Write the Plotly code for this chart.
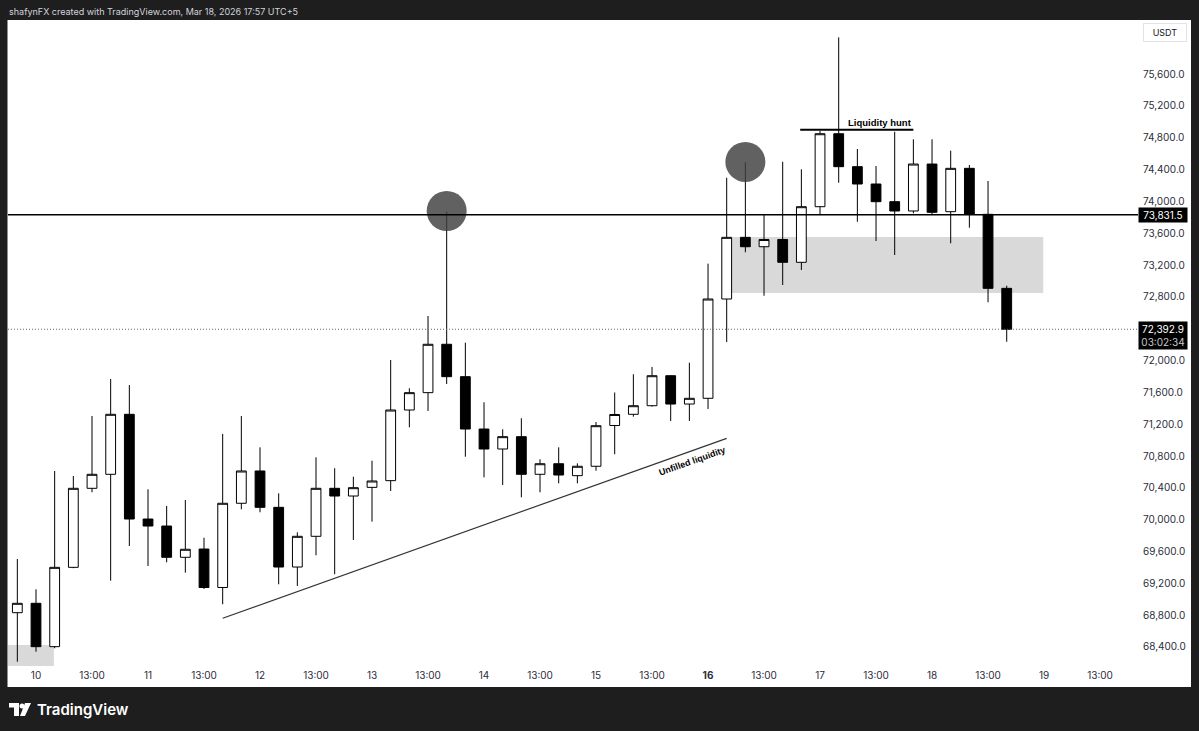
import plotly.graph_objects as go
import pandas as pd

# BTC/USDT 4H candles, local time UTC+5
times = pd.date_range("2026-03-09 21:00", periods=54, freq="4h")

opens = [68831, 68949, 68404, 69401, 70394, 70570, 71324, 70008, 69920, 69527,
         69631, 69148, 70206, 70612, 70155, 69405, 69791, 70394, 70297, 70406,
         70490, 71378, 71596, 72204, 71797, 71139, 70888, 71043, 70570, 70703,
         70553, 70671, 71183, 71324, 71432, 71809, 71453, 71525, 72773, 73548,
         73430, 73521, 73234, 73933, 74850, 74436, 74218, 73996, 73879, 74469,
         73870, 74415, 73837, 72907]
highs = [69506, 69125, 70612, 70549, 71303, 71768, 71692, 70382, 70172, 70247,
         69773, 71077, 71303, 70909, 70331, 69841, 70784, 70646, 70540, 70741,
         72006, 71651, 72559, 73870, 72224, 71475, 71136, 71274, 70759, 70909,
         70708, 71227, 71598, 71827, 71919, 71815, 71973, 73217, 74297, 74491,
         73835, 74498, 74403, 74884, 76061, 74658, 74444, 74875, 74780, 74780,
         74637, 74457, 74256, 72940]
lows = [68215, 68341, 68384, 69390, 70344, 69233, 69669, 69418, 69464, 69334,
        69129, 68937, 70130, 70093, 69188, 69167, 69552, 69314, 69745, 69975,
        70360, 71161, 71366, 71705, 70791, 70532, 70436, 70281, 70344, 70457,
        70457, 70615, 70822, 71294, 71420, 71240, 71240, 71391, 72233, 73360,
        72814, 72949, 73137, 73837, 74234, 73744, 73502, 73326, 73850, 73841,
        73473, 73669, 72732, 72236]
closes = [68949, 68404, 69401, 70394, 70570, 71324, 70008, 69920, 69527, 69628,
          69148, 70206, 70612, 70155, 69405, 69791, 70394, 70297, 70402, 70486,
          71378, 71596, 72204, 71797, 71139, 70888, 71043, 70570, 70703, 70561,
          70671, 71181, 71322, 71432, 71809, 71453, 71525, 72773, 73548, 73430,
          73521, 73234, 73933, 74850, 74436, 74218, 73996, 73879, 74469, 73862,
          74415, 73837, 72907, 72392.9]

tick_times = ["2026-03-10 01:00", "2026-03-10 13:00", "2026-03-11 01:00", "2026-03-11 13:00",
              "2026-03-12 01:00", "2026-03-12 13:00", "2026-03-13 01:00", "2026-03-13 13:00",
              "2026-03-14 01:00", "2026-03-14 13:00", "2026-03-15 01:00", "2026-03-15 13:00",
              "2026-03-16 01:00", "2026-03-16 13:00", "2026-03-17 01:00", "2026-03-17 13:00",
              "2026-03-18 01:00", "2026-03-18 13:00", "2026-03-19 01:00", "2026-03-19 13:00"]
tick_text = ["10", "13:00", "11", "13:00", "12", "13:00", "13", "13:00", "14", "13:00",
             "15", "13:00", "<b>16</b>", "13:00", "17", "13:00", "18", "13:00", "19", "13:00"]
price_ticks = list(range(68400, 75601, 400))

level_price = 73831.5
last_price = 72392.9
countdown = "03:02:34"

# annotation drawing points
circle_times = ["2026-03-13 17:00", "2026-03-16 09:00"]
circle_prices = [73879, 74495]

# plot area in pixels
L, R, T, B = 8, 1138, 20, 668
W_PX, H_PX = R - L, B - T


def px(x):
    return (x - L) / W_PX


def py(y):
    return (B - y) / H_PX


fig = go.Figure()

fig.add_trace(go.Candlestick(
    x=times, open=opens, high=highs, low=lows, close=closes,
    increasing=dict(fillcolor="white", line=dict(color="#000000", width=1)),
    decreasing=dict(fillcolor="#000000", line=dict(color="#000000", width=1)),
    whiskerwidth=0, showlegend=False, hoverinfo="skip",
))

fig.add_trace(go.Scatter(
    x=circle_times, y=circle_prices, mode="markers",
    marker=dict(size=40, color="rgba(62,62,62,0.82)", line=dict(width=0)),
    showlegend=False, hoverinfo="skip",
))

shapes = [
    # white chart panel
    dict(type="rect", xref="paper", yref="paper", x0=px(7.5), x1=px(1191), y0=py(687), y1=py(20),
         fillcolor="white", line=dict(width=0), layer="below"),
    # supply zone
    dict(type="rect", xref="x", yref="y", x0="2026-03-16 05:00", x1="2026-03-19 00:50",
         y0=72848, y1=73552, fillcolor="#d9d9d9", line=dict(width=0), layer="below"),
    # small zone lower left
    dict(type="rect", xref="x", yref="y", x0="2026-03-09 18:00", x1="2026-03-10 04:50",
         y0=68160, y1=68425, fillcolor="#d9d9d9", line=dict(width=0), layer="below"),
    # key level
    dict(type="line", xref="paper", yref="y", x0=0, x1=1, y0=level_price, y1=level_price,
         line=dict(color="#000000", width=1.5)),
    # last price
    dict(type="line", xref="paper", yref="y", x0=0, x1=1, y0=last_price, y1=last_price,
         line=dict(color="#666666", width=1, dash="1px,2px")),
    # trendline
    dict(type="line", xref="x", yref="y", x0="2026-03-11 17:00", y0=68761,
         x1="2026-03-16 05:00", y1=71022, line=dict(color="#333333", width=1.2)),
    # liquidity hunt line
    dict(type="line", xref="x", yref="y", x0="2026-03-16 20:45", y0=74900,
         x1="2026-03-17 21:00", y1=74900, line=dict(color="#000000", width=2)),
]

# TradingView logo (rough)
logo = [
    "M {} {} L {} {} L {} {} L {} {} L {} {} L {} {} Z".format(
        px(9), py(703), px(19), py(703), px(19), py(716), px(14), py(716), px(14), py(707.5), px(9), py(707.5)),
    "M {} {} L {} {} L {} {} L {} {} Z".format(
        px(25), py(703), px(31), py(703), px(25), py(716), px(20), py(716)),
]
for p in logo:
    shapes.append(dict(type="path", xref="paper", yref="paper", path=p,
                       fillcolor="white", line=dict(width=0)))
shapes.append(dict(type="circle", xref="paper", yref="paper", x0=px(19.5), x1=px(24.5),
                   y0=py(708.5), y1=py(703.5), fillcolor="white", line=dict(width=0)))

annotations = [
    dict(text="shafynFX created with TradingView.com, Mar 18, 2026 17:57 UTC+5",
         xref="paper", yref="paper", x=px(7), y=py(12), xanchor="left", yanchor="middle",
         showarrow=False, font=dict(family="Inter", size=9, color="#d1d4dc")),
    dict(text="TradingView", xref="paper", yref="paper", x=px(35), y=py(709.5),
         xanchor="left", yanchor="middle", showarrow=False,
         font=dict(family="Inter", size=15, color="white", weight=600)),
    dict(text="USDT", xref="paper", yref="paper", x=px(1165), y=py(32.5),
         xanchor="center", yanchor="middle", showarrow=False,
         font=dict(family="Inter", size=9, color="#131722"),
         bordercolor="#e0e3eb", borderwidth=1, borderpad=3, width=36, bgcolor="white"),
    dict(text=f"{level_price:,.1f}", xref="paper", yref="y", x=1, y=level_price,
         xanchor="left", yanchor="middle", showarrow=False, width=46, height=12, borderpad=1,
         bgcolor="#000000", font=dict(family="Inter", size=10, color="white")),
    dict(text=f"{last_price:,.1f}<br><span style='color:#c8c8c8'>{countdown}</span>",
         xref="paper", yref="y", x=1, y=last_price, yshift=-6,
         xanchor="left", yanchor="middle", showarrow=False, width=46, borderpad=1,
         bgcolor="#000000", font=dict(family="Inter", size=10, color="white")),
    dict(text="<b>Liquidity hunt</b>", xref="x", yref="y", x="2026-03-17 13:50", y=74997,
         xanchor="center", yanchor="middle", showarrow=False,
         font=dict(family="Liberation Sans", size=9.5, color="#000000")),
    dict(text="<b>Unfilled liquidity</b>", xref="x", yref="y", x="2026-03-15 21:40", y=70740,
         xanchor="center", yanchor="middle", showarrow=False, textangle=-19.6,
         font=dict(family="Liberation Sans", size=9, color="#000000")),
]

fig.update_layout(
    width=1199, height=731,
    margin=dict(l=L, r=1199 - R, t=T, b=731 - B),
    paper_bgcolor="#1e1e1e", plot_bgcolor="white",
    boxgap=0.25, hovermode=False,
    shapes=shapes, annotations=annotations,
    xaxis=dict(type="date", range=["2026-03-09 19:00", "2026-03-19 21:08"],
               tickvals=tick_times, ticktext=tick_text, ticks="", showgrid=False,
               zeroline=False, showline=False, rangeslider=dict(visible=False),
               tickfont=dict(family="Inter", size=10, color="#2a2e39")),
    yaxis=dict(side="right", range=[68136, 76279], tickvals=price_ticks,
               tickformat=",.1f", ticks="", showgrid=False, zeroline=False, showline=False,
               ticklabelstandoff=4,
               tickfont=dict(family="Inter", size=10, color="#2a2e39")),
)

# the page body has a default 8px margin; remove it so the figure fills the window
fig.write_html("out.html", config={"displayModeBar": False},
               post_script="document.body.style.margin='0';document.body.style.background='#1e1e1e';")
